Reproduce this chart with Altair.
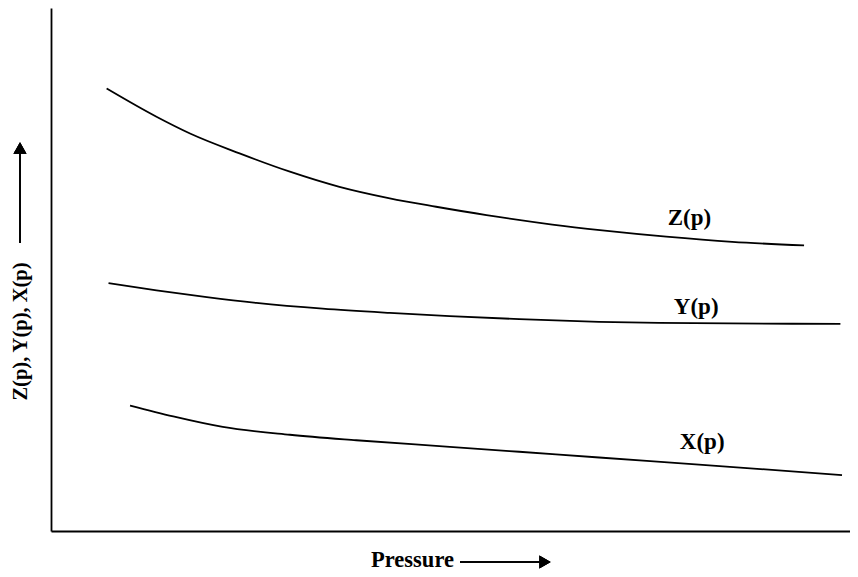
import altair as alt
import pandas as pd

# Pressure (arbitrary units, 0-100) and curve values (arbitrary units, 0-100)
z_p = [6.96, 13.2, 17.4, 23.6, 29.9, 36.1, 42.4, 48.2, 54.5, 62.75, 69.0, 77.0, 85.25, 94.25]
z_v = [84.6, 79.2, 76.0, 72.2, 68.7, 65.8, 63.6, 62.0, 60.4, 58.6, 57.5, 56.3, 55.3, 54.6]

y_p = [7.2, 13.2, 19.5, 25.7, 34.0, 42.4, 49.9, 58.6, 68.6, 76.1, 98.8]
y_v = [47.4, 46.0, 44.7, 43.6, 42.5, 41.7, 41.1, 40.5, 40.0, 39.8, 39.6]

x_p = [9.9, 15.3, 21.5, 29.9, 38.2, 49.9, 58.6, 68.6, 81.1, 99.0]
x_v = [24.0, 21.9, 19.9, 18.4, 17.35, 16.1, 15.15, 14.05, 12.7, 10.7]

label_text = ["Z(p)", "Y(p)", "X(p)"]
label_p = [79.9, 80.75, 81.5]
label_v = [59.8, 42.8, 17.0]

rows = []
for name, ps, vs in [("Z(p)", z_p, z_v), ("Y(p)", y_p, y_v), ("X(p)", x_p, x_v)]:
    for p, v in zip(ps, vs):
        rows.append({"series": name, "p": p, "v": v})
curves = pd.DataFrame(rows)
labels = pd.DataFrame({"text": label_text, "p": label_p, "v": label_v})

FONT = "Liberation Serif"

xscale = alt.Scale(domain=[0, 100], nice=False, zero=False)
yscale = alt.Scale(domain=[0, 100], nice=False, zero=False)

x_axis = alt.Axis(labels=False, ticks=False, grid=False, domain=True,
                  domainColor="black", domainWidth=1.8,
                  title="Pressure", titleFont=FONT, titleFontSize=22.5,
                  titleFontWeight="bold", titleColor="black",
                  titleX=361, titleY=35, titleAlign="center",
                  titleBaseline="alphabetic")
y_axis = alt.Axis(labels=False, ticks=False, grid=False, domain=True,
                  domainColor="black", domainWidth=1.8,
                  title="Z(p), Y(p), X(p)", titleFont=FONT, titleFontSize=20.5,
                  titleFontWeight="bold", titleColor="black",
                  titleX=-31, titleY=323, titleAngle=270,
                  titleAlign="center", titleBaseline="middle")

lines = alt.Chart(curves).mark_line(color="black", strokeWidth=1.8,
                                    interpolate="monotone").encode(
    x=alt.X("p:Q", scale=xscale, axis=x_axis),
    y=alt.Y("v:Q", scale=yscale, axis=y_axis),
    detail="series:N",
)

text = alt.Chart(labels).mark_text(font=FONT, fontSize=23, fontWeight="bold",
                                   color="black", baseline="middle",
                                   align="center").encode(
    x=alt.X("p:Q", scale=xscale),
    y=alt.Y("v:Q", scale=yscale),
    text="text:N",
)

# decorative arrows beside the axis titles
x_arrow_line = alt.Chart(labels).mark_rule(color="black", strokeWidth=1.5).encode(
    x=alt.value(409), x2=alt.value(490), y=alt.value(554))
x_arrow_head = alt.Chart(labels).mark_point(shape="triangle-right", filled=True,
                                            color="black", size=170, opacity=1).encode(
    x=alt.value(494), y=alt.value(554))
y_arrow_line = alt.Chart(labels).mark_rule(color="black", strokeWidth=1.5).encode(
    x=alt.value(-31), y=alt.value(235), y2=alt.value(145))
y_arrow_head = alt.Chart(labels).mark_point(shape="triangle-up", filled=True,
                                            color="black", size=170, opacity=1).encode(
    x=alt.value(-31), y=alt.value(140))

chart = alt.layer(lines, text, x_arrow_line, x_arrow_head, y_arrow_line, y_arrow_head).properties(
    width=799, height=523,
    autosize=alt.AutoSizeParams(type="none"),
    padding={"left": 43, "top": 0, "right": 0, "bottom": 42},
).configure_view(stroke=None)

chart.save("out.html", embed_options={"renderer": "svg", "actions": False})
